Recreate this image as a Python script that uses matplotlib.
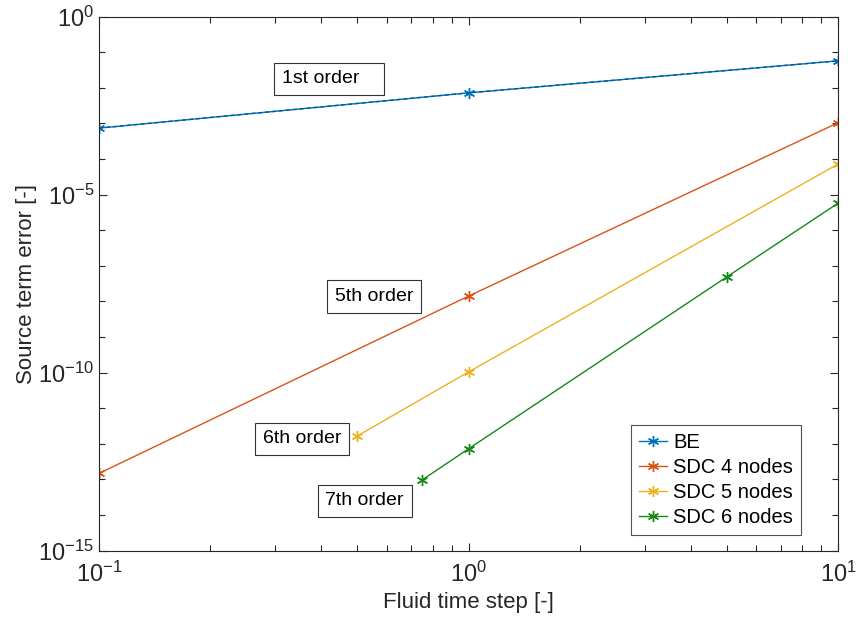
import matplotlib.pyplot as plt
import numpy as np
from matplotlib.ticker import LogLocator, NullFormatter, FixedLocator, FuncFormatter

plt.rcParams['font.family'] = ['Liberation Sans', 'DejaVu Sans']
plt.rcParams['mathtext.fontset'] = 'custom'
plt.rcParams['mathtext.rm'] = 'Liberation Sans'
plt.rcParams['mathtext.it'] = 'Liberation Sans'
plt.rcParams['axes.unicode_minus'] = False

# data (log10 of error)
be_dt = [0.1, 1.0, 10.0]
be_err = [10**-3.13, 10**-2.14, 10**-1.24]

sdc4_dt = [0.1, 1.0, 10.0]
sdc4_err = [10**-12.83, 10**-7.85, 10**-2.98]

sdc5_dt = [0.5, 1.0, 10.0]
sdc5_err = [10**-11.78, 10**-9.98, 10**-4.14]

sdc6_dt = [0.75, 1.0, 5.0, 10.0]
sdc6_err = [10**-13.01, 10**-12.14, 10**-7.31, 10**-5.24]

labels = ["BE", "SDC 4 nodes", "SDC 5 nodes", "SDC 6 nodes"]
colors = ["#0072BD", "#D95319", "#EDB120", "#138A13"]

order_labels = ["1st order   ", "5th order", "6th order", "7th order"]
order_pos = [(0.313, 10**-1.75), (0.435, 10**-7.86), (0.277, 10**-11.86), (0.41, 10**-13.6)]

fig = plt.figure(figsize=(8.56, 6.3), dpi=100)
ax = fig.add_axes([0.1157, 0.126, 0.8633, 0.8475])

asterisk = (6, 2, 0)
series = [(be_dt, be_err), (sdc4_dt, sdc4_err), (sdc5_dt, sdc5_err), (sdc6_dt, sdc6_err)]
for (x, y), lab, c in zip(series, labels, colors):
    ax.plot(x, y, color=c, marker=asterisk, markersize=8, markeredgewidth=1.0,
            linewidth=1.0, label=lab)
# BE line shows dark dashes over the solid line in the original
ax.plot(be_dt, be_err, color="#005a96", linestyle="--", linewidth=1.0, dashes=(3, 2))

for txt, (x, y) in zip(order_labels, order_pos):
    ax.text(x, y, txt, fontsize=14, ha="left", va="center",
            bbox=dict(boxstyle="square,pad=0.4", fc="white", ec="#333333", lw=0.8))

ax.set_xscale("log")
ax.set_yscale("log")
ax.set_xlim(0.1, 10)
ax.set_ylim(1e-15, 1)

decade_fmt = FuncFormatter(lambda v, p: "$10^{%d}$" % int(round(np.log10(v))))
ax.yaxis.set_major_locator(FixedLocator([1e-15, 1e-10, 1e-5, 1]))
ax.yaxis.set_minor_locator(FixedLocator([10.0**k for k in range(-15, 1)]))
ax.yaxis.set_minor_formatter(NullFormatter())
ax.yaxis.set_major_formatter(decade_fmt)
ax.xaxis.set_major_locator(FixedLocator([0.1, 1, 10]))
ax.xaxis.set_minor_locator(LogLocator(base=10, subs=np.arange(2, 10), numticks=20))
ax.xaxis.set_minor_formatter(NullFormatter())
ax.xaxis.set_major_formatter(decade_fmt)

ax.tick_params(which="both", direction="in", top=True, right=True, colors="#262626",
               labelsize=17)
ax.tick_params(which="major", length=6, width=0.8)
ax.tick_params(which="minor", length=4, width=0.8)
ax.tick_params(axis="x", pad=8)
for s in ax.spines.values():
    s.set_color("#262626")
    s.set_linewidth(0.8)

ax.set_xlabel("Fluid time step [-]", fontsize=16, color="#262626")
ax.set_ylabel("Source term error [-]", fontsize=16, color="#262626", labelpad=1)

leg = ax.legend(loc="lower right", bbox_to_anchor=(0.95, 0.029), borderaxespad=0,
                fontsize=14.5, fancybox=False, edgecolor="#262626", handlelength=1.4,
                handletextpad=0.3, borderpad=0.4, labelspacing=0.3)
leg.get_frame().set_linewidth(0.8)

fig.savefig("out.png", dpi=100)
